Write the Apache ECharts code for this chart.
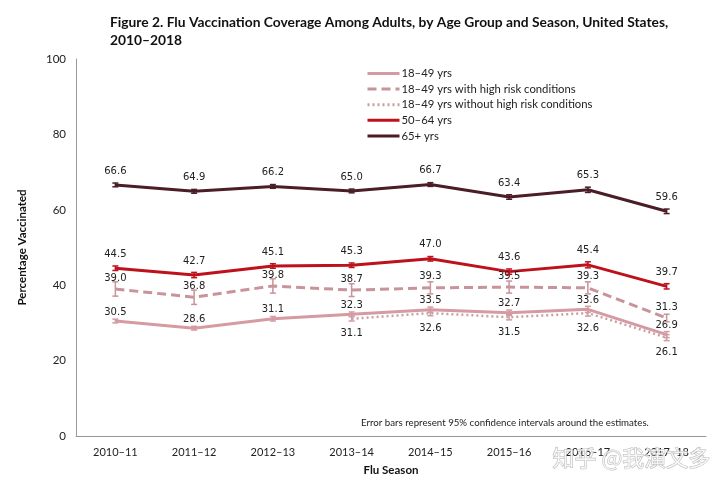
<!DOCTYPE html>
<html>
<head>
<meta charset="utf-8">
<script src="https://cdn.jsdelivr.net/npm/echarts@6/dist/echarts.min.js"></script>
<style>
html,body{margin:0;padding:0;background:#fff;}
#chart{width:720px;height:488px;}
</style>
</head>
<body>
<div id="chart"></div>
<script>
// ---- data ----
const seasons = ['2010–11','2011–12','2012–13','2013–14','2014–15','2015–16','2016–17','2017–18'];
const seriesNames = ['18–49 yrs','18–49 yrs with high risk conditions','18–49 yrs without high risk conditions','50–64 yrs','65+ yrs'];
const v18to49      = [30.5, 28.6, 31.1, 32.3, 33.5, 32.7, 33.6, 26.9];
const v18to49High  = [39.0, 36.8, 39.8, 38.7, 39.3, 39.5, 39.3, 31.3];
const v18to49NoHigh= [null, null, null, 31.1, 32.6, 31.5, 32.6, 26.1];
const v50to64      = [44.5, 42.7, 45.1, 45.3, 47.0, 43.6, 45.4, 39.7];
const v65plus      = [66.6, 64.9, 66.2, 65.0, 66.7, 63.4, 65.3, 59.6];
// estimated half-widths of 95% CI error bars
const e18to49      = [0.5, 0.5, 0.6, 0.6, 0.7, 0.7, 0.8, 0.8];
const e18to49High  = [1.9, 1.9, 1.9, 1.7, 1.6, 1.6, 1.6, 1.0];
const e18to49NoHigh= [null, null, null, 0.6, 0.7, 0.7, 0.8, 0.8];
const e50to64      = [0.6, 0.7, 0.6, 0.6, 0.6, 0.7, 0.8, 0.7];
const e65plus      = [0.5, 0.5, 0.5, 0.5, 0.5, 0.6, 0.7, 0.6];
const yTicks = [0, 20, 40, 60, 80, 100];

const colors = ['#d59aa2', '#c8949a', '#cc9ea3', '#bd111c', '#4a1d27'];
const values = [v18to49, v18to49High, v18to49NoHigh, v50to64, v65plus];
const errors = [e18to49, e18to49High, e18to49NoHigh, e50to64, e65plus];
const lineTypes = ['solid', [9, 5], [2, 3], 'solid', 'solid'];
const lineWidths = [3, 3, 2.5, 3, 3];
const labelPos = ['top', 'top', 'bottom', 'top', 'top'];
const labelDist = [9, 11, 15, 14, 14];

const chart = echarts.init(document.getElementById('chart'));

const series = [];
values.forEach((vals, s) => {
  series.push({
    name: seriesNames[s],
    type: 'line',
    data: vals,
    symbol: 'none',
    connectNulls: false,
    lineStyle: {color: colors[s], width: lineWidths[s], type: lineTypes[s]},
    itemStyle: {color: colors[s]},
    z: 2 + s
  });
  const customData = vals.map((v, i) => v == null ? null : [i, v, errors[s][i]]).filter(d => d);
  series.push({
    name: seriesNames[s] + ' CI',
    type: 'custom',
    data: customData,
    encode: {x: 0, y: 1},
    z: 10 + s,
    silent: true,
    renderItem: function (params, api) {
      const x = api.value(0), y = api.value(1), e = api.value(2);
      const pHi = api.coord([x, y + e]);
      const pLo = api.coord([x, y - e]);
      const p = api.coord([x, y]);
      const cap = 3;
      const stroke = colors[s];
      const children = [
        {type: 'line', shape: {x1: pHi[0], y1: pHi[1], x2: pLo[0], y2: pLo[1]}, style: {stroke: stroke, lineWidth: 1.5}},
        {type: 'line', shape: {x1: pHi[0] - cap, y1: pHi[1], x2: pHi[0] + cap, y2: pHi[1]}, style: {stroke: stroke, lineWidth: 1.5}},
        {type: 'line', shape: {x1: pLo[0] - cap, y1: pLo[1], x2: pLo[0] + cap, y2: pLo[1]}, style: {stroke: stroke, lineWidth: 1.5}}
      ];
      const ly = labelPos[s] === 'top' ? p[1] - labelDist[s] : p[1] + labelDist[s];
      children.push({
        type: 'text',
        style: {
          text: y.toFixed(1), x: p[0], y: ly,
          align: 'center', verticalAlign: 'middle',
          fill: '#222', font: '10px "DejaVu Sans"'
        },
        z2: 50
      });
      return {type: 'group', children: children};
    }
  });
});

chart.setOption({
  animation: false,
  backgroundColor: '#fff',
  title: {
    text: 'Figure 2. Flu Vaccination Coverage Among Adults, by Age Group and Season, United States,\n2010–2018',
    left: 105, top: 9,
    textStyle: {fontFamily: 'Lato', fontWeight: 'bold', fontSize: 13.8, lineHeight: 18, color: '#111'}
  },
  legend: {
    data: seriesNames,
    orient: 'vertical',
    left: 361, top: 63,
    itemWidth: 32, itemHeight: 11, itemGap: 4.6,
    itemStyle: {opacity: 0, borderWidth: 0},
    lineStyle: {width: 3},
    textStyle: {fontFamily: 'Lato', fontSize: 11.3, color: '#222', padding: [0, 0, 0, -3]},
    selectedMode: false
  },
  grid: {left: 76, right: 14, top: 59, bottom: 52, containLabel: false},
  xAxis: {
    type: 'category',
    data: seasons,
    boundaryGap: true,
    axisLine: {lineStyle: {color: '#999', width: 1}},
    axisTick: {show: false},
    axisLabel: {fontFamily: 'Lato', fontSize: 11, color: '#222', margin: 11},
    name: 'Flu Season',
    nameLocation: 'middle',
    nameGap: 28,
    nameTextStyle: {fontFamily: 'Lato', fontWeight: 'bold', fontSize: 11.5, color: '#111'}
  },
  yAxis: {
    type: 'value',
    min: yTicks[0], max: yTicks[yTicks.length - 1], interval: 20,
    axisLine: {show: true, lineStyle: {color: '#999', width: 1}},
    axisTick: {show: false},
    splitLine: {show: false},
    axisLabel: {fontFamily: 'Lato', fontSize: 11.5, color: '#222', margin: 10},
    name: 'Percentage Vaccinated',
    nameLocation: 'middle',
    nameGap: 48,
    nameRotate: 90,
    nameTextStyle: {fontFamily: 'Lato', fontWeight: 'bold', fontSize: 11.5, color: '#111'}
  },
  graphic: [
    {
      type: 'text', left: 361, top: 418, z: 100,
      style: {text: 'Error bars represent 95% confidence intervals around the estimates.', font: '9.7px Lato', fill: '#222'}
    },
    {
      type: 'text', left: 552, top: 446, z: 200,
      style: {text: '知乎 @我演文多', font: '22px "Noto Sans CJK SC"', fill: 'rgba(255,255,255,0.75)', stroke: 'rgba(160,160,160,0.75)', lineWidth: 1}
    }
  ],
  series: series
});
</script>
</body>
</html>
